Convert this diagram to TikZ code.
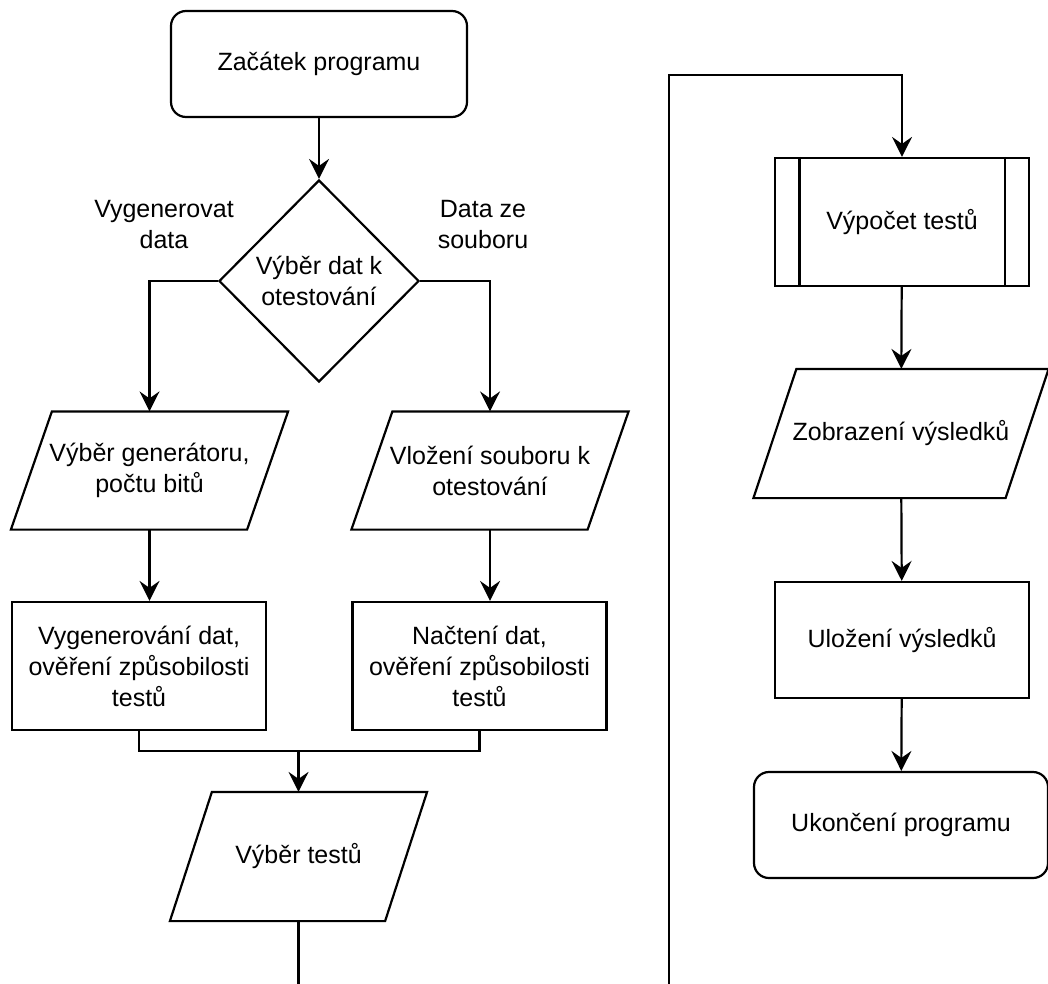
\documentclass[tikz,border=0pt]{standalone}
\usepackage{fontspec}
\setmainfont{Liberation Sans}
\usetikzlibrary{arrows.meta}
\usetikzlibrary{shapes.geometric,calc}

\tikzset{
	krok/.style={rectangle, minimum width=254pt, minimum height=128pt},
	vstup/.style={rectangle, draw=none, minimum height=116pt},
	mez/.style={rounded corners=15pt, minimum height=106pt},
	sipka/.style={-{Stealth[length=20pt,width=20pt,inset=7pt]}},
}

\begin{document}
\begin{tikzpicture}[x=1pt,y=-1pt,line width=2.2pt,font=\fontsize{25}{31}\selectfont]
	\useasboundingbox (0,0) rectangle (1048,983);

	\begin{scope}[every node/.style={draw,align=center,inner sep=2pt}]
		\node [mez, minimum width=296pt] (zacatek) at (319,64) {Začátek programu};
		\node [diamond, minimum width=200pt, minimum height=202pt, inner sep=0pt] (vyber) at (319,281) {Výběr dat k\\otestování};
		\node [vstup, minimum width=275pt] (generator) at (149.5,470.5) {Výběr generátoru,\\počtu bitů};
		\node [vstup, minimum width=275pt] (soubor) at (490,470.5) {Vložení souboru k\\otestování};
		\node [krok] (generovani) at (139,666) {Vygenerování dat,\\ověření způsobilosti\\testů};
		\node [krok] (nacteni) at (479.5,666) {Načtení dat,\\ověření způsobilosti\\testů};
		\node [vstup, minimum width=255pt, minimum height=127pt] (testy) at (298.5,856.5) {Výběr testů};
		\node [krok] (vypocet) at (902,222) {Výpočet testů};
		\node [vstup, minimum width=293pt, minimum height=127pt] (zobrazeni) at (901,433.5) {Zobrazení výsledků};
		\node [krok, minimum height=116pt] (ulozeni) at (902,640) {Uložení výsledků};
		\node [mez, minimum width=294pt] (konec) at (901,825) {Ukončení programu};
	\end{scope}

	% kosodelniky vstupu/vystupu
	\foreach \n/\s in {generator/41,soubor/41,testy/42,zobrazeni/43}
		\draw ([xshift=\s pt]\n.north west) -- (\n.north east)
			-- ([xshift=-\s pt]\n.south east) -- (\n.south west) -- cycle;

	% popisky vetveni
	\node [align=center] (lbgen) at (164,225) {Vygenerovat\\data};
	\node [align=center] (lbsoubor) at (483,225) {Data ze\\souboru};

	% svisle cary podprogramu
	\draw ([xshift=25.5pt]vypocet.north west) -- ([xshift=25.5pt]vypocet.south west);
	\draw ([xshift=-25.5pt]vypocet.north east) -- ([xshift=-25.5pt]vypocet.south east);

	\coordinate (spoj) at (298.5,751);
	\coordinate (nahore) at (669,75);

	\begin{scope}[every path/.style={sipka}]
		\draw (zacatek) -- (vyber);
		\draw (vyber.west) -| (generator.north);
		\draw (vyber.east) -| (soubor.north);
		\draw (generator.south) -- (generator.south |- generovani.north);
		\draw (soubor.south) -- (soubor.south |- nacteni.north);
		\draw[-] (generovani.south) |- (spoj) -| (nacteni.south);
		\draw (spoj) -- (testy.north);
		\draw (testy.south) -- ++(0,150) -| (nahore) -| (vypocet.north);
		\draw (vypocet) -- (zobrazeni);
		\draw (zobrazeni) -- (ulozeni);
		\draw (ulozeni) -- (konec);
	\end{scope}
\end{tikzpicture}
\end{document}
